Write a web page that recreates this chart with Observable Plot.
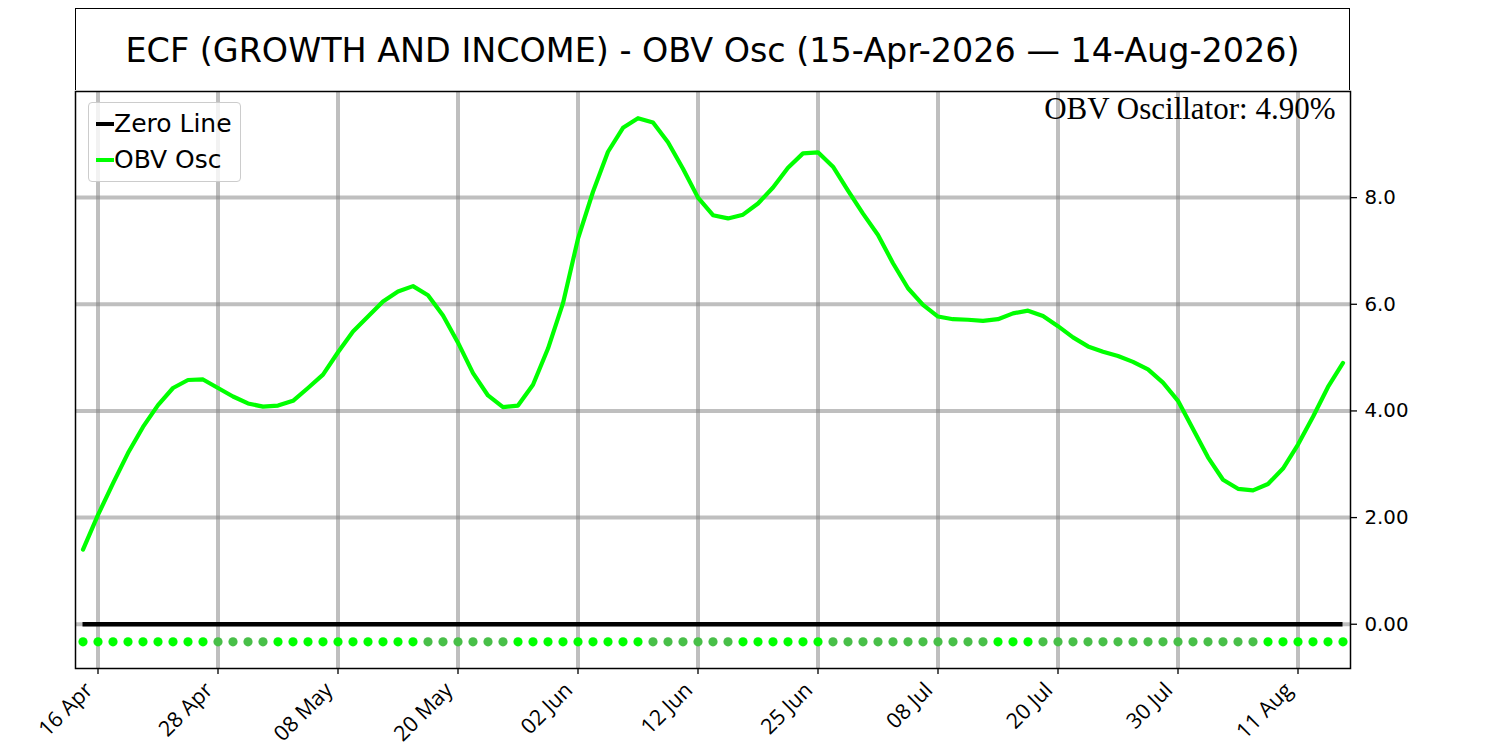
<!DOCTYPE html>
<html>
<head>
<meta charset="utf-8">
<script src="https://cdn.jsdelivr.net/npm/d3@7"></script>
<script src="https://cdn.jsdelivr.net/npm/@observablehq/plot@0.6"></script>
<style>
  html, body { margin: 0; padding: 0; background: #fff; }
  body { width: 1500px; height: 750px; overflow: hidden; position: relative; font-family: "DejaVu Sans", sans-serif; }
  #title {
    margin: 8px 0 0 75px; width: 1275px; height: 82px; box-sizing: border-box;
    border: 1.5px solid #000; border-bottom: none;
    text-align: center; font-size: 33.4px; line-height: 84px; color: #000; white-space: nowrap;
  }
  #chart svg { display: block; }
  #legend {
    position: absolute; left: 88px; top: 102px; width: 153px; height: 80px; box-sizing: border-box;
    border: 1px solid #cccccc; border-radius: 4px; background: rgba(255,255,255,0.8);
  }
  .row { position: absolute; left: 0; height: 25px; width: 150px; }
  .swatch { position: absolute; left: 7px; width: 18px; height: 4.5px; }
  .label { position: absolute; left: 25px; top: 0; font-size: 25px; line-height: 25px; color: #000; white-space: nowrap; }
</style>
</head>
<body>
<div id="title"></div>
<div id="chart"></div>
<div id="legend"></div>
<script>
// ---- data ----
const titleText = "ECF (GROWTH AND INCOME) - OBV Osc (15-Apr-2026 \u2014 14-Aug-2026)";
const dates = [
  "2026-04-15","2026-04-16","2026-04-17","2026-04-20","2026-04-21","2026-04-22","2026-04-23","2026-04-24","2026-04-27","2026-04-28","2026-04-29","2026-04-30",
  "2026-05-01","2026-05-04","2026-05-05","2026-05-06","2026-05-07","2026-05-08","2026-05-11","2026-05-12","2026-05-13","2026-05-14","2026-05-15","2026-05-18","2026-05-19","2026-05-20","2026-05-21","2026-05-22","2026-05-26","2026-05-27","2026-05-28","2026-05-29",
  "2026-06-01","2026-06-02","2026-06-03","2026-06-04","2026-06-05","2026-06-08","2026-06-09","2026-06-10","2026-06-11","2026-06-12","2026-06-15","2026-06-16","2026-06-17","2026-06-18","2026-06-22","2026-06-23","2026-06-24","2026-06-25","2026-06-26","2026-06-29","2026-06-30",
  "2026-07-01","2026-07-02","2026-07-06","2026-07-07","2026-07-08","2026-07-09","2026-07-10","2026-07-13","2026-07-14","2026-07-15","2026-07-16","2026-07-17","2026-07-20","2026-07-21","2026-07-22","2026-07-23","2026-07-24","2026-07-27","2026-07-28","2026-07-29","2026-07-30","2026-07-31",
  "2026-08-03","2026-08-04","2026-08-05","2026-08-06","2026-08-07","2026-08-10","2026-08-11","2026-08-12","2026-08-13","2026-08-14"
];
const osc = [
  1.40, 2.05, 2.64, 3.21, 3.70, 4.11, 4.43, 4.58, 4.59, 4.43, 4.27, 4.14,
  4.08, 4.10, 4.19, 4.43, 4.68, 5.10, 5.49, 5.77, 6.05, 6.24, 6.34, 6.17, 5.79, 5.28, 4.71, 4.29, 4.07, 4.10, 4.49, 5.17,
  6.02, 7.23, 8.11, 8.86, 9.31, 9.49, 9.41, 9.04, 8.54, 8.00, 7.67, 7.61, 7.68, 7.89, 8.19, 8.56, 8.83, 8.85, 8.58, 8.13, 7.70,
  7.30, 6.77, 6.30, 5.99, 5.77, 5.72, 5.71, 5.69, 5.72, 5.83, 5.88, 5.78, 5.59, 5.38, 5.21, 5.11, 5.03, 4.92, 4.78, 4.53, 4.19, 3.66,
  3.13, 2.71, 2.54, 2.51, 2.63, 2.92, 3.37, 3.89, 4.45, 4.90
];
const zeroLevel = 0;
const dotLevel = -0.33;
const tickDates = ["2026-04-16","2026-04-28","2026-05-08","2026-05-20","2026-06-02","2026-06-12","2026-06-25","2026-07-08","2026-07-20","2026-07-30","2026-08-11"];
const tickLabels = ["16 Apr","28 Apr","08 May","20 May","02 Jun","12 Jun","25 Jun","08 Jul","20 Jul","30 Jul","11 Aug"];
const yTicks = [0, 2, 4, 6, 8];
const yTickLabels = ["0.00", "2.00", "4.00", "6.0", "8.0"];
const yDomain = [-0.83, 9.99];
const seriesNames = ["Zero Line", "OBV Osc"];
const seriesColors = ["#000000", "#00ff00"];
const fallingColor = "#48bf48";

// ---- build ----
document.getElementById("title").textContent = titleText;

const rows = dates.map((d, i) => ({ i, date: d, osc: osc[i], up: i === 0 || osc[i] >= osc[i - 1] }));
const xTicks = tickDates.map(d => dates.indexOf(d));

const grid = { stroke: "#808080", strokeOpacity: 0.5, strokeWidth: 4 };

const chart = Plot.plot({
  width: 1500, height: 661,
  marginTop: 1, marginLeft: 75, marginRight: 150, marginBottom: 83,
  style: { fontFamily: "DejaVu Sans", fontSize: "19.5px", color: "#000", background: "#fff", overflow: "visible" },
  x: { domain: [-0.5, dates.length - 0.5] },
  y: { domain: yDomain },
  marks: [
    Plot.gridX(xTicks, grid),
    Plot.gridY(yTicks, grid),
    Plot.ruleY([zeroLevel], { x1: 0, x2: dates.length - 1, stroke: seriesColors[0], strokeWidth: 4.5 }),
    Plot.line(rows, { x: "i", y: "osc", stroke: seriesColors[1], strokeWidth: 4.2 }),
    Plot.dot(rows.filter(d => d.up), { x: "i", y: () => dotLevel, r: 4.6, fill: seriesColors[1] }),
    Plot.dot(rows.filter(d => !d.up), { x: "i", y: () => dotLevel, r: 4.6, fill: fallingColor }),
    // x tick marks
    Plot.axisX(xTicks, { tickFormat: () => "", tickSize: 6, strokeWidth: 1.3, label: null }),
    // x tick labels (rotated)
    Plot.axisX(xTicks, { tickFormat: d => tickLabels[xTicks.indexOf(d)], tickRotate: -45, tickSize: 0, tickPadding: 18, dx: -9, fontSize: 21.5, fontFamily: "Open Sans", label: null }),
    Plot.axisY(yTicks, { anchor: "right", tickFormat: d => yTickLabels[yTicks.indexOf(d)], tickSize: 6, tickPadding: 8, strokeWidth: 1.3, fontSize: 19.8, label: null }),
    Plot.frame({ stroke: "#000", strokeWidth: 1.5 }),
    Plot.text([`OBV Oscillator: ${osc[osc.length - 1].toFixed(2)}%`], {
      frameAnchor: "top-right", dx: -15, dy: 5, lineAnchor: "top",
      fontFamily: "Liberation Serif", fontSize: 31, fill: "#000"
    })
  ]
});
document.getElementById("chart").appendChild(chart);

// legend
const legend = document.getElementById("legend");
seriesNames.forEach((name, k) => {
  const row = document.createElement("div");
  row.className = "row";
  row.style.top = (8 + k * 36) + "px";
  const sw = document.createElement("div");
  sw.className = "swatch";
  sw.style.background = seriesColors[k];
  sw.style.top = "10.5px";
  const lb = document.createElement("div");
  lb.className = "label";
  lb.textContent = name;
  row.appendChild(sw);
  row.appendChild(lb);
  legend.appendChild(row);
});
</script>
</body>
</html>
